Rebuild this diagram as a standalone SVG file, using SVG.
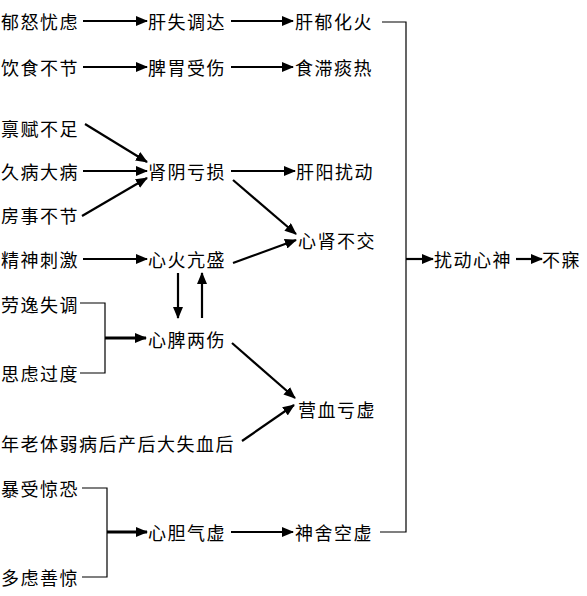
<svg xmlns="http://www.w3.org/2000/svg" width="587" height="596" viewBox="0 0 587 596">
<style>
text{font-family:"Noto Sans CJK SC","Noto Sans CJK JP",sans-serif;font-size:18px;fill:#000;dominant-baseline:central;letter-spacing:1.5px}
.a{stroke:#000;stroke-width:2.2;fill:none;marker-end:url(#ah)}
.t{stroke-width:3}
.l{stroke:#000;stroke-width:1.2;fill:none}
</style>
<defs>
<marker id="ah" markerUnits="userSpaceOnUse" markerWidth="12" markerHeight="10" refX="11" refY="5" orient="auto">
<path d="M0,0 L12,5 L0,10 Z" fill="#000"/>
</marker>
</defs>
<rect width="587" height="596" fill="#fff"/>
<g id="n1"><text x="1" y="21">郁怒忧虑</text></g>
<g id="n2"><text x="148" y="21">肝失调达</text></g>
<g id="n3"><text x="295" y="21">肝郁化火</text></g>
<g id="n4"><text x="1" y="67">饮食不节</text></g>
<g id="n5"><text x="148" y="67">脾胃受伤</text></g>
<g id="n6"><text x="295" y="67">食滞痰热</text></g>
<g id="n7"><text x="1" y="128">禀赋不足</text></g>
<g id="n8"><text x="1" y="171">久病大病</text></g>
<g id="n9"><text x="1" y="215">房事不节</text></g>
<g id="n10"><text x="148" y="171">肾阴亏损</text></g>
<g id="n11"><text x="296" y="171">肝阳扰动</text></g>
<g id="n12"><text x="298" y="240">心肾不交</text></g>
<g id="n13"><text x="1" y="259">精神刺激</text></g>
<g id="n14"><text x="148" y="259">心火亢盛</text></g>
<g id="n15"><text x="1" y="304">劳逸失调</text></g>
<g id="n16"><text x="1" y="373">思虑过度</text></g>
<g id="n17"><text x="148" y="339">心脾两伤</text></g>
<g id="n18"><text x="1" y="443">年老体弱病后产后大失血后</text></g>
<g id="n19"><text x="298" y="409">营血亏虚</text></g>
<g id="n20"><text x="1" y="488">暴受惊恐</text></g>
<g id="n21"><text x="1" y="577">多虑善惊</text></g>
<g id="n22"><text x="148" y="532">心胆气虚</text></g>
<g id="n23"><text x="295" y="532">神舍空虚</text></g>
<g id="n24"><text x="434" y="259">扰动心神</text></g>
<g id="n25"><text x="542" y="259">不寐</text></g>
<g id="connectors">
<path class="a" d="M83,21 H147"/>
<path class="a" d="M231,21 H293"/>
<path class="a" d="M83,67 H147"/>
<path class="a" d="M231,67 H293"/>
<path class="a" d="M85,124 L147,162"/>
<path class="a" d="M83,171 H147"/>
<path class="a" d="M82,216 L147,178"/>
<path class="a" d="M231,171 H295"/>
<path class="a" d="M233,180 L296,234"/>
<path class="a" d="M83,259 H147"/>
<path class="a" d="M233,263 L296,240"/>
<path class="a" d="M178,273 V318"/>
<path class="a" d="M202,318 V273"/>
<path class="l" d="M80,303 H105 V373 H80"/>
<path class="a t" d="M105,338 H146"/>
<path class="a" d="M232,343 L295,398"/>
<path class="a" d="M242,441 L294,405"/>
<path class="l" d="M82,488 H107 V577 H82"/>
<path class="a t" d="M107,532 H147"/>
<path class="a" d="M231,532 H293"/>
<path class="l" d="M382,22 H406 V532 H380"/>
<path class="a" d="M406,259 H433"/>
<path class="a" d="M516,259 H542"/>
</g>
</svg>
